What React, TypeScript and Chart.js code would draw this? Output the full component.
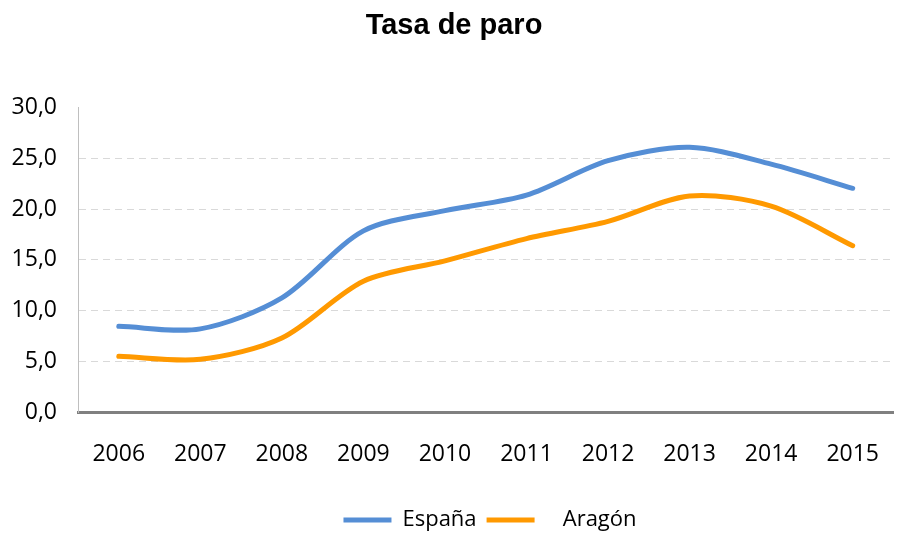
import { useEffect, useRef } from 'react';
import { Chart, registerables } from 'chart.js';

Chart.register(...registerables);

const titleText = 'Tasa de paro';
const years = ['2006', '2007', '2008', '2009', '2010', '2011', '2012', '2013', '2014', '2015'];
const espana = [8.45, 8.2, 11.25, 17.86, 19.86, 21.39, 24.79, 26.1, 24.44, 22.06];
const aragon = [5.5, 5.2, 7.3, 12.9, 14.9, 17.1, 18.8, 21.3, 20.3, 16.4];
const seriesNames = ['España', '   Aragón'];
const seriesColors = ['#558ED5', '#FF9900'];
const yMin = 0;
const yMax = 30;
const yStep = 5;

const legendShift = {
  id: 'legendShift',
  afterLayout(chart: any) {
    const lg = chart.legend;
    if (!lg) return;
    lg.left += 36;
    lg.right += 36;
    lg.top += 8;
    lg.bottom += 8;
  },
};

export default function App() {
  const ref = useRef<HTMLCanvasElement | null>(null);

  useEffect(() => {
    if (!ref.current) return;
    const chart = new Chart(ref.current, {
      type: 'line',
      data: {
        labels: years,
        datasets: [
          {
            label: seriesNames[0],
            data: espana,
            borderColor: seriesColors[0],
            backgroundColor: seriesColors[0],
            borderWidth: 5,
            borderCapStyle: 'round',
            pointRadius: 0,
            tension: 0.3,
          },
          {
            label: seriesNames[1],
            data: aragon,
            borderColor: seriesColors[1],
            backgroundColor: seriesColors[1],
            borderWidth: 5,
            borderCapStyle: 'round',
            pointRadius: 0,
            tension: 0.3,
          },
        ],
      },
      options: {
        animation: false,
        responsive: true,
        maintainAspectRatio: false,
        layout: { padding: 0 },
        plugins: {
          title: {
            display: true,
            text: titleText,
            color: '#000',
            font: { family: "'Liberation Sans', Arial, sans-serif", size: 29, weight: 'bold' },
            padding: { top: 9, bottom: 64 },
          },
          legend: {
            position: 'bottom',
            labels: {
              usePointStyle: true,
              pointStyle: 'line',
              pointStyleWidth: 48,
              boxWidth: 48,
              boxHeight: 5,
              padding: 10,
              color: '#000',
              font: { family: "'Open Sans', sans-serif", size: 22 },
            },
          },
          tooltip: { enabled: false },
        },
        scales: {
          x: {
            type: 'category',
            offset: true,
            grid: { display: false, drawTicks: false },
            border: { display: true, color: '#808080', width: 3 },
            ticks: {
              color: '#000',
              padding: 29,
              maxRotation: 0,
              autoSkip: false,
              font: { family: "'Open Sans', sans-serif", size: 23 },
            },
            afterFit: (scale: any) => {
              scale.height = 79;
            },
          },
          y: {
            min: yMin,
            max: yMax,
            grid: {
              drawTicks: false,
              lineWidth: 1,
              color: (ctx: any) =>
                ctx.tick && (ctx.tick.value === yMin || ctx.tick.value === yMax) ? 'rgba(0,0,0,0)' : '#D9D9D9',
            },
            border: { display: true, color: '#BFBFBF', width: 1, dash: [7, 5] },
            ticks: {
              stepSize: yStep,
              color: '#000',
              padding: 21,
              font: { family: "'Open Sans', sans-serif", size: 23 },
              callback: (v: any) => Number(v).toFixed(1).replace('.', ','),
            },
            afterFit: (scale: any) => {
              scale.width = 78;
            },
          },
        },
      },
      plugins: [legendShift],
    });
    return () => chart.destroy();
  }, []);

  return (
    <div
      style={{
        position: 'fixed',
        left: 0,
        top: 0,
        width: 900,
        height: 533,
        overflow: 'hidden',
        background: '#fff',
      }}
    >
      <div style={{ position: 'relative', width: 908, height: 533 }}>
        <canvas ref={ref} />
      </div>
    </div>
  );
}
